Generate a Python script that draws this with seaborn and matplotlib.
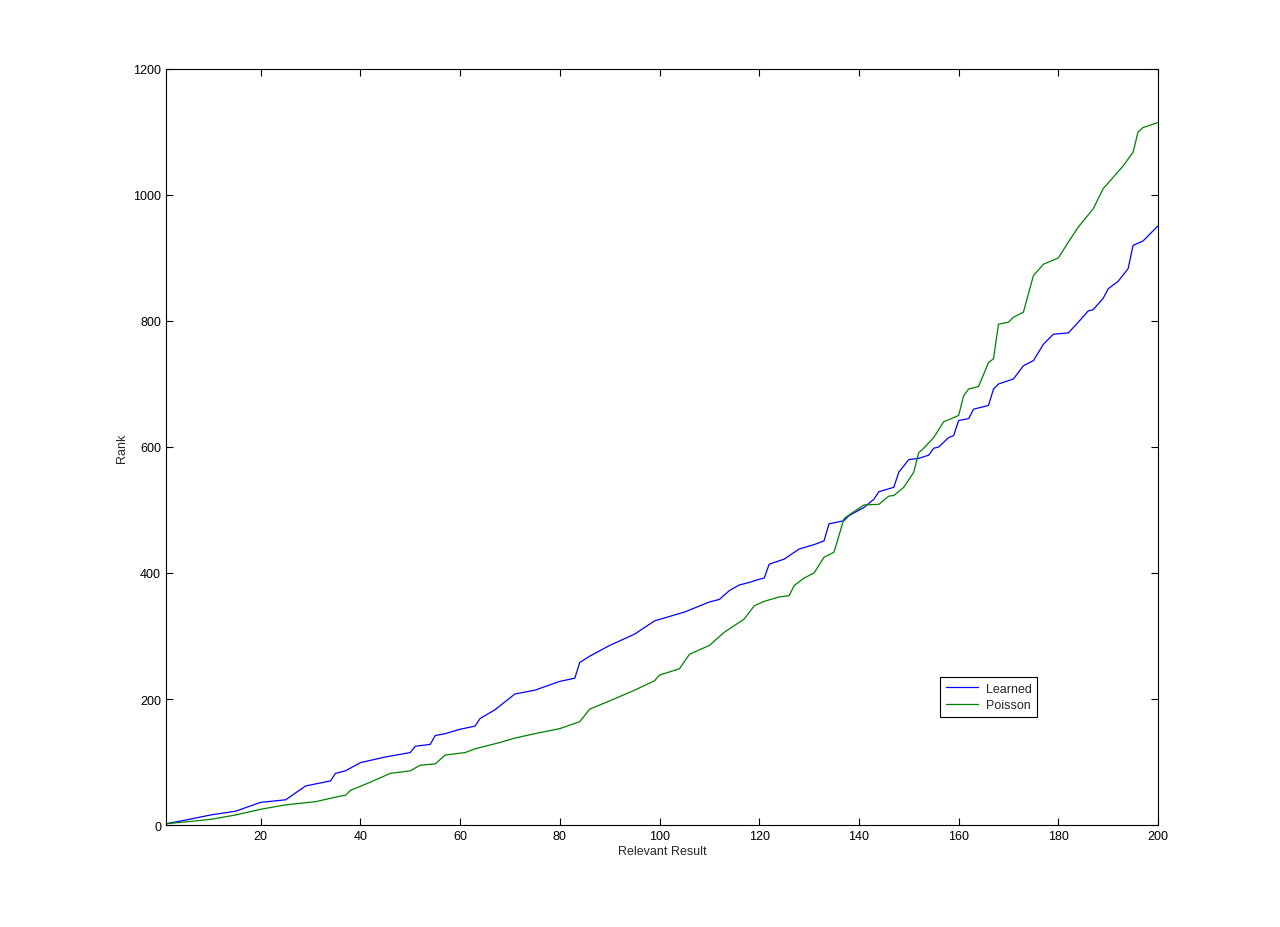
import matplotlib
matplotlib.use("Agg")
import matplotlib.pyplot as plt
import pandas as pd
import numpy as np
import seaborn as sns

learned_x = [1, 5, 10, 15, 20, 25, 29, 34, 35, 37, 40, 45, 50, 51, 54, 55, 57, 60, 63, 64,
             67, 71, 75, 80, 83, 84, 86, 90, 95, 99, 105, 110, 112, 114, 116, 118, 120, 121,
             122, 125, 128, 131, 133, 134, 137, 138, 141, 143, 144, 147, 148, 150, 152, 154,
             155, 156, 158, 159, 160, 162, 163, 166, 167, 168, 171, 173, 175, 177, 179, 182,
             184, 186, 187, 189, 190, 192, 194, 195, 197, 200]
learned_y = [2, 8, 16, 22, 36, 40, 62, 70, 82, 86, 99, 108, 115, 125, 128, 142, 145, 152, 157, 169,
             183, 208, 214, 228, 233, 258, 268, 285, 303, 324, 338, 354, 358, 372, 381, 385, 390, 392,
             414, 422, 438, 445, 451, 478, 483, 491, 504, 517, 529, 536, 560, 580, 582, 587,
             598, 600, 615, 618, 642, 645, 660, 666, 692, 700, 708, 729, 737, 763, 779, 781,
             798, 816, 818, 836, 851, 863, 883, 920, 927, 951]

poisson_x = [1, 5, 10, 15, 20, 25, 31, 36, 37, 38, 42, 46, 50, 52, 55, 57, 61, 63, 68, 71,
             75, 80, 84, 86, 90, 95, 99, 100, 104, 106, 110, 113, 117, 119, 121, 124, 126, 127,
             129, 131, 133, 135, 137, 138, 141, 144, 146, 147, 149, 151, 152, 153, 155, 157,
             160, 161, 162, 164, 166, 167, 168, 170, 171, 173, 175, 177, 180, 182, 184, 187,
             189, 193, 195, 196, 197, 200]
poisson_y = [2, 5, 9, 16, 25, 32, 37, 46, 47, 55, 68, 82, 86, 95, 97, 111, 115, 121, 131, 138,
             145, 153, 164, 184, 197, 214, 229, 238, 248, 271, 285, 306, 327, 348, 355, 362, 364, 380,
             392, 400, 425, 433, 486, 492, 508, 509, 522, 523, 536, 560, 591, 598, 615, 640,
             650, 681, 692, 696, 734, 740, 795, 798, 806, 814, 872, 890, 900, 925, 949, 978,
             1010, 1046, 1068, 1100, 1107, 1115]

df = pd.concat([
    pd.DataFrame({"result": learned_x, "rank": learned_y, "method": "Learned"}),
    pd.DataFrame({"result": poisson_x, "rank": poisson_y, "method": "Poisson"}),
])

sns.set_style("ticks")
plt.rcParams["font.family"] = ["Liberation Sans", "DejaVu Sans"]

fig = plt.figure(figsize=(12.8, 9.28), dpi=100)
ax = fig.add_axes([0.1297, 0.1099, 0.775, 0.8147])

sns.lineplot(data=df, x="result", y="rank", hue="method", palette=["#0000ff", "#008000"],
             estimator=None, sort=False, linewidth=0.9, ax=ax)

ax.set_xlim(1, 200)
ax.set_ylim(0, 1200)
ax.set_xticks(np.arange(20, 201, 20))
ax.set_yticks(np.arange(0, 1201, 200))
ax.tick_params(direction="in", length=5, width=0.8, labelsize=9, top=True, right=True, colors="black")
for s in ax.spines.values():
    s.set_visible(True)
    s.set_linewidth(0.8)
    s.set_color("black")
ax.set_xlabel("Relevant Result", fontsize=9, labelpad=2)
ax.set_ylabel("Rank", fontsize=9, labelpad=4)

leg = ax.legend(loc="lower left", bbox_to_anchor=(0.774, 0.135), fontsize=9, frameon=True,
                fancybox=False, framealpha=1, edgecolor="black", handlelength=2.6,
                borderpad=0.45, labelspacing=0.35, handletextpad=0.6)
leg.get_frame().set_linewidth(0.8)

fig.savefig("out.png", dpi=100)
